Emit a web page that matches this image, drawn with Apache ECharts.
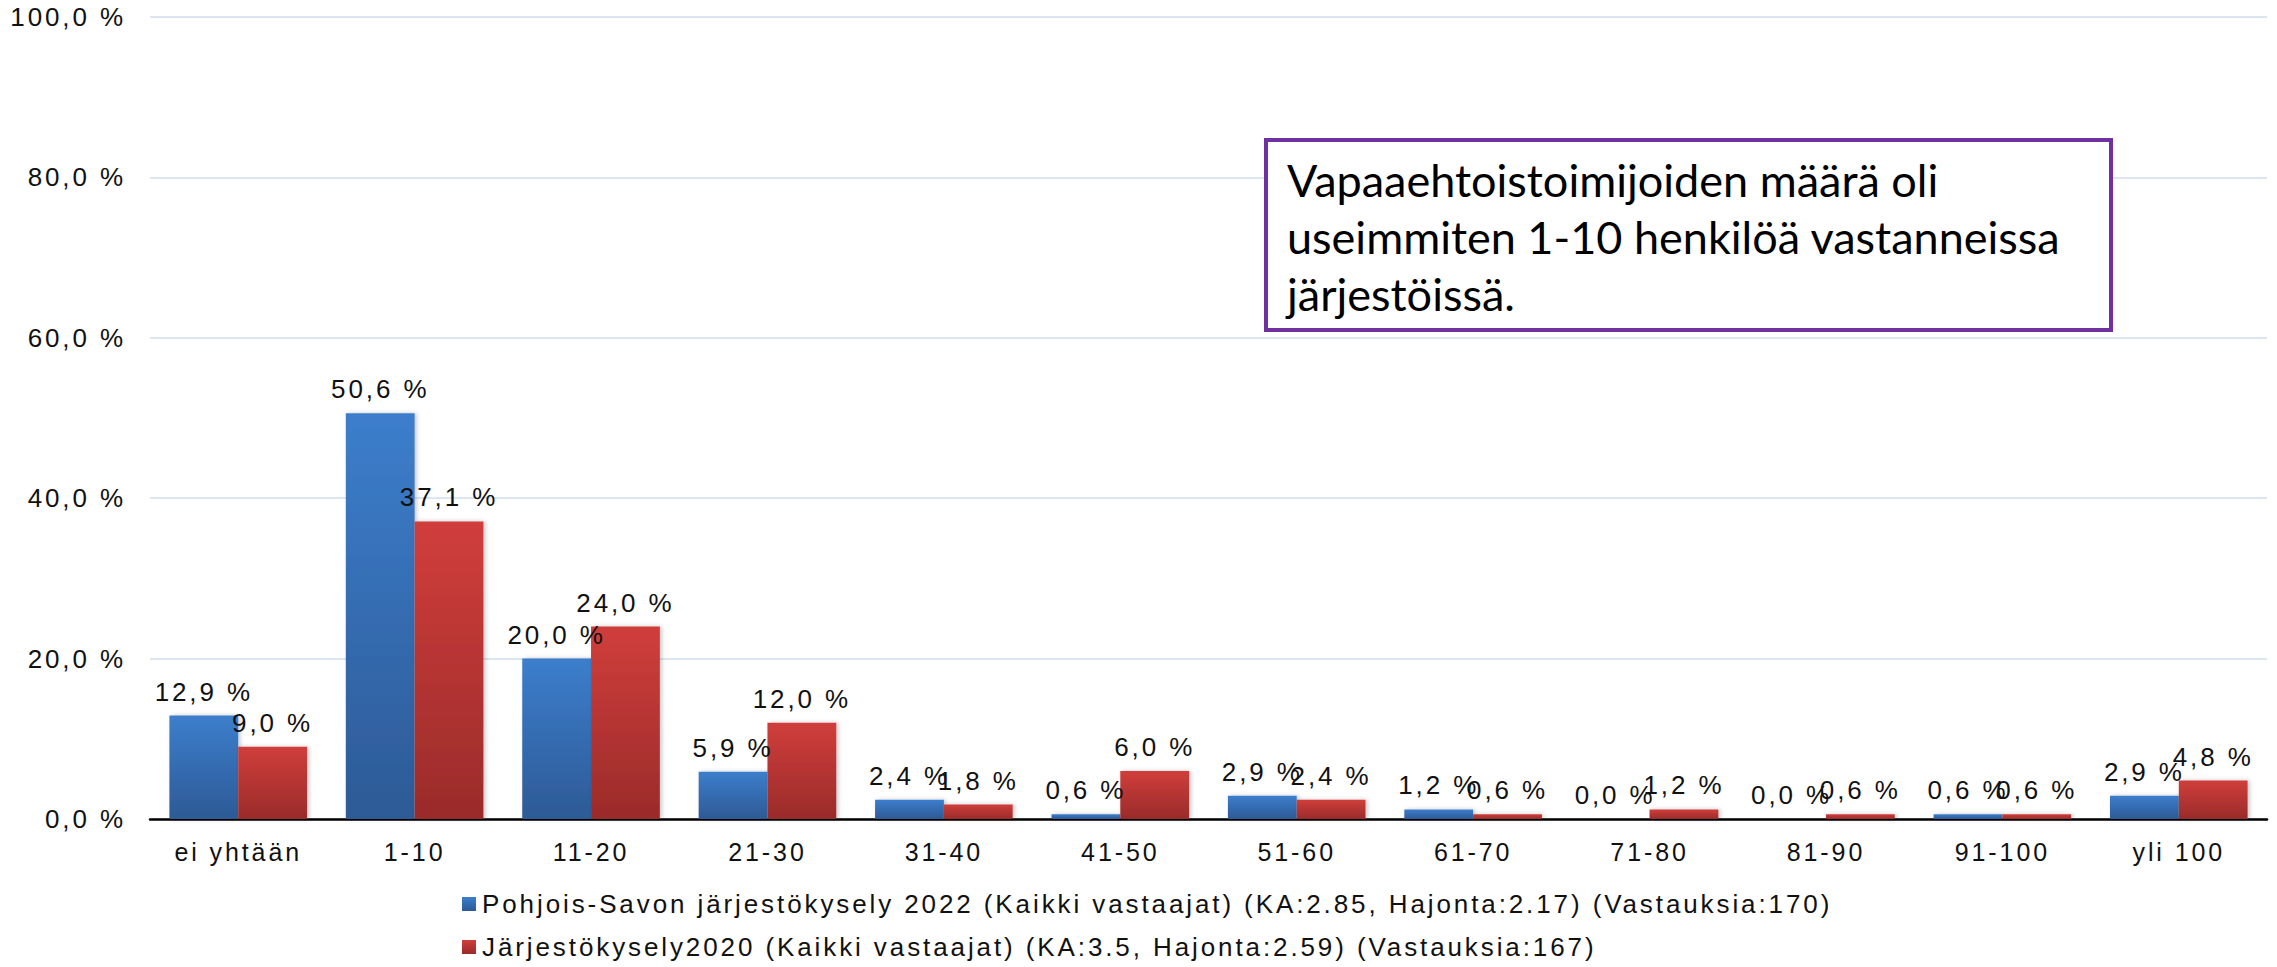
<!DOCTYPE html>
<html>
<head>
<meta charset="utf-8">
<script src="https://cdn.jsdelivr.net/npm/echarts@6/dist/echarts.min.js"></script>
<style>
  html, body { margin: 0; padding: 0; background: #fff; }
  #chart { width: 2277px; height: 967px; }
  #chart text { letter-spacing: 2.9px; }
  #chart text[style*="Lato"] { letter-spacing: 0; }
</style>
</head>
<body>
<div id="chart"></div>
<script>
const categories = ['ei yhtään', '1-10', '11-20', '21-30', '31-40', '41-50', '51-60', '61-70', '71-80', '81-90', '91-100', 'yli 100']
const survey2022 = [12.9, 50.6, 20.0, 5.9, 2.4, 0.6, 2.9, 1.2, 0.0, 0.0, 0.6, 2.9]
const survey2020 = [9.0, 37.1, 24.0, 12.0, 1.8, 6.0, 2.4, 0.6, 1.2, 0.6, 0.6, 4.8]
const seriesNames = [
  'Pohjois-Savon järjestökysely 2022 (Kaikki vastaajat) (KA:2.85, Hajonta:2.17) (Vastauksia:170)',
  'Järjestökysely2020 (Kaikki vastaajat) (KA:3.5, Hajonta:2.59) (Vastauksia:167)',
]
const noteLines = [
  'Vapaaehtoistoimijoiden määrä oli',
  'useimmiten 1-10 henkilöä vastanneissa',
  'järjestöissä.',
]

const pct = (v) => v.toFixed(1).replace('.', ',') + ' %'
const font = 'Liberation Sans, Arial, sans-serif'

function grad(top, bottom) {
  return new echarts.graphic.LinearGradient(0, 0, 0, 1, [
    { offset: 0, color: top },
    { offset: 1, color: bottom },
  ])
}

const chart = echarts.init(document.getElementById('chart'), null, { renderer: 'svg' })

const barStyle = (top, bottom) => ({
  color: grad(top, bottom),
  shadowBlur: 4,
  shadowOffsetX: 2,
  shadowOffsetY: 0,
  shadowColor: 'rgba(0,0,0,0.22)',
})

const labelStyle = {
  show: true,
  position: 'top',
  distance: 11,
  color: '#111',
  fontSize: 26,
  fontFamily: font,
  formatter: (p) => pct(p.value),
}

chart.setOption({
  animation: false,
  backgroundColor: '#fff',
  grid: { left: 150, right: 10, top: 17, bottom: 148 },
  legend: {
    orient: 'vertical',
    left: 462,
    top: 891,
    padding: 0,
    itemWidth: 14,
    itemHeight: 14,
    itemGap: 17,
    icon: 'rect',
    textStyle: { fontSize: 26, fontFamily: font, color: '#111', padding: [0, 0, 0, 1] },
    data: seriesNames,
  },
  xAxis: {
    type: 'category',
    data: categories,
    axisLine: { lineStyle: { color: '#000', width: 2.5 } },
    axisTick: { show: false },
    axisLabel: { color: '#111', fontSize: 25, fontFamily: font, margin: 20 },
  },
  yAxis: {
    type: 'value',
    min: 0,
    max: 100,
    interval: 20,
    axisLine: { show: false },
    axisTick: { show: false },
    axisLabel: { color: '#111', fontSize: 26, fontFamily: font, margin: 24, formatter: (v) => pct(v) },
    splitLine: { lineStyle: { color: '#dce6f2', width: 2 } },
  },
  graphic: [
    {
      type: 'rect',
      shape: { x: 1266, y: 140, width: 845, height: 190 },
      style: { fill: '#fff', stroke: '#7030a0', lineWidth: 4 },
      z: 100,
    },
    {
      type: 'text',
      x: 1287,
      y: 151,
      style: {
        text: noteLines.join('\n'),
        fill: '#000',
        font: '45px Lato',
        lineHeight: 57,
      },
      z: 101,
    },
  ],
  series: [
    {
      name: seriesNames[0],
      type: 'bar',
      data: survey2022,
      barGap: '0%',
      barCategoryGap: '22%',
      itemStyle: barStyle('#3c7ecc', '#2d5a96'),
      label: labelStyle,
    },
    {
      name: seriesNames[1],
      type: 'bar',
      data: survey2020,
      itemStyle: barStyle('#d03e3b', '#9a2b2a'),
      label: labelStyle,
    },
  ],
})
</script>
</body>
</html>
